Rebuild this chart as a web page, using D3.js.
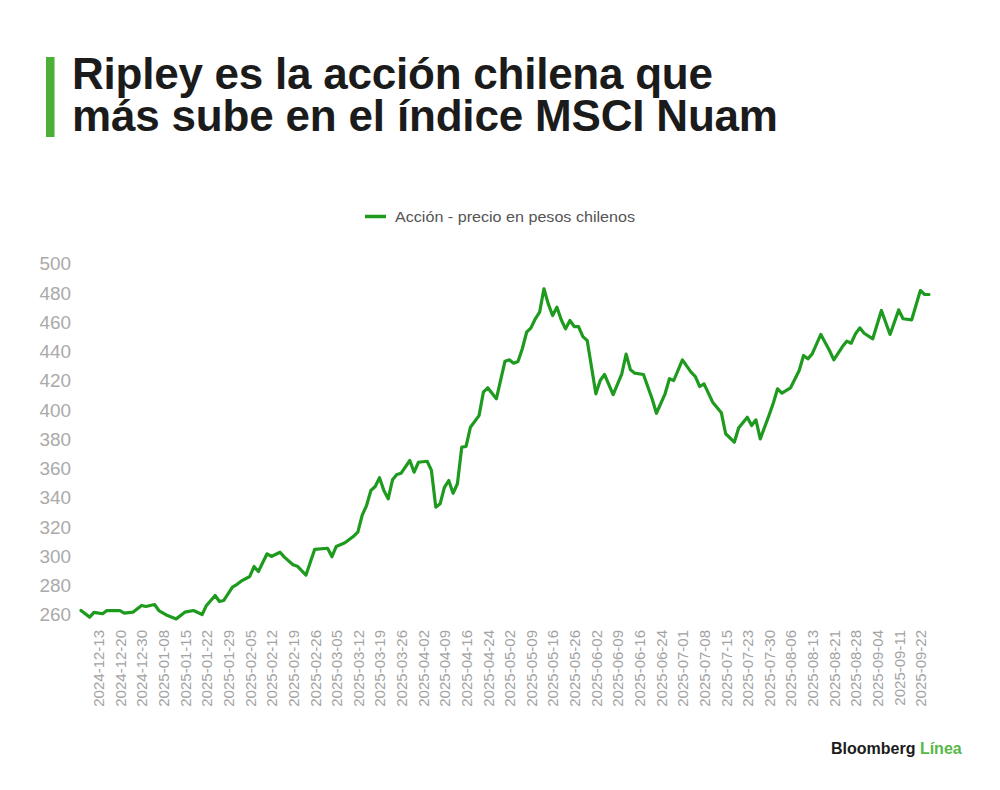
<!DOCTYPE html>
<html>
<head>
<meta charset="utf-8">
<script src="https://cdn.jsdelivr.net/npm/d3@7"></script>
<style>
  body { margin: 0; background: #fff; }
  svg { display: block; font-family: "Liberation Sans", Arial, sans-serif; }
</style>
</head>
<body>
<div id="chart"></div>
<script>
(function () {
	//Size of the page
	var w = 1000;
	var h = 790;

	//Session number (trading days since the first point) and closing price
	var sessions = [0, 2, 3, 5, 6, 9, 10, 12, 14, 15, 17, 18, 20, 22, 24, 26, 28, 29, 31, 32,
		33, 35, 36, 37, 39, 40, 41, 43, 44, 46, 47, 49, 50, 52, 54, 57, 58, 59, 61, 63,
		64, 65, 66, 67, 68, 69, 70, 71, 72, 73, 74, 76, 77, 78, 80, 81, 82, 83, 84, 85,
		86, 87, 88, 89, 90, 92, 93, 94, 96, 98, 99, 100, 101, 102, 103, 104, 105, 106, 107, 108,
		109, 110, 111, 112, 113, 114, 115, 116, 117, 119, 120, 121, 123, 125, 126, 127, 128, 130, 132, 133,
		135, 136, 137, 139, 141, 142, 143, 144, 146, 148, 149, 151, 152, 154, 155, 156, 157, 159, 160, 161,
		162, 164, 166, 167, 168, 169, 171, 173, 174, 176, 177, 178, 179, 180, 181, 183, 185, 187, 189, 190,
		192, 194, 195, 196];
	var prices = [262.7, 258.2, 261.4, 260.5, 262.7, 262.7, 261, 261.6, 266.2, 265.5, 266.8, 262.7, 259.3, 257, 261.6, 262.7, 260, 266.2, 273, 268.9,
		269.6, 278.7, 280.5, 282.8, 286, 292.8, 289.4, 301.5, 299.7, 302.6, 299.2, 294, 293, 287, 304.5, 305.3, 299.5, 306.5, 309, 313.5,
		316.5, 328, 334.5, 344.8, 347.5, 353.5, 344.8, 339.1, 352.1, 355.7, 356.6, 365.3, 357.3, 364.1, 364.8, 358.5, 333.4, 335.7, 347, 351.6,
		342.9, 349.4, 374.4, 374.9, 388, 396, 412, 415, 407.5, 433.2, 434.1, 431.8, 433, 441.7, 453, 456, 462.2, 466.7, 482.7, 472.4,
		464.4, 470.1, 461.5, 455.3, 461, 456.9, 456.9, 450, 447.4, 410.9, 420, 424.1, 410.4, 424.6, 438, 427.3, 425, 424.1, 407.5, 397.6,
		410.9, 421.2, 420, 434.1, 425.7, 422.7, 415.9, 417.7, 405.2, 398, 383.6, 377.8, 387.5, 394.9, 389.2, 393.1, 380.1, 396, 404.5, 414.3,
		411.3, 415, 426.8, 437.1, 434.8, 438.2, 451.5, 440.5, 434.1, 443.2, 446.9, 445.5, 451.9, 456, 452.3, 448.5, 467.9, 451.5, 468.3, 462.2,
		461.5, 481.5, 478.8, 478.8];

	//Date labels on the x axis, one every five sessions
	var dateLabels = ["2024-12-13", "2024-12-20", "2024-12-30", "2025-01-08", "2025-01-15", "2025-01-22",
		"2025-01-29", "2025-02-05", "2025-02-12", "2025-02-19", "2025-02-26", "2025-03-05", "2025-03-12",
		"2025-03-19", "2025-03-26", "2025-04-02", "2025-04-09", "2025-04-16", "2025-04-24", "2025-05-02",
		"2025-05-09", "2025-05-16", "2025-05-26", "2025-06-02", "2025-06-09", "2025-06-16", "2025-06-24",
		"2025-07-01", "2025-07-08", "2025-07-15", "2025-07-23", "2025-07-30", "2025-08-06", "2025-08-13",
		"2025-08-21", "2025-08-28", "2025-09-04", "2025-09-11", "2025-09-22"];
	var firstLabelSession = 4;
	var lastSession = 196;
	var yTicks = [260, 280, 300, 320, 340, 360, 380, 400, 420, 440, 460, 480, 500];

	var green = "#1e9b1e";

	var dataset = sessions.map(function (s, i) {
		return { Session: s, Price: prices[i] };
	});

	//Scales
	var xScale = d3.scaleLinear()
		.domain([0, lastSession])
		.range([81, 929]);

	var yScale = d3.scaleLinear()
		.domain([260, 500])
		.range([614.5, 263.5]);

	var svg = d3.select("#chart")
		.append("svg")
		.attr("width", w)
		.attr("height", h);

	//Green bar next to the title
	svg.append("rect")
		.attr("x", 46)
		.attr("y", 57)
		.attr("width", 8.5)
		.attr("height", 80)
		.attr("fill", "#4caf37");

	//Title: one text, two lines, tracking fitted to each line's width
	var titleLines = [
		{ text: "Ripley es la acción chilena que", dy: 0, len: 641 },
		{ text: "más sube en el índice MSCI Nuam", dy: 42.5, len: 706 }
	];
	var title = svg.append("text")
		.attr("x", 72)
		.attr("y", 88.5)
		.attr("font-size", 44)
		.attr("font-weight", "bold")
		.attr("fill", "#1b1b1b");
	title.selectAll("tspan")
		.data(titleLines)
		.enter()
		.append("tspan")
		.attr("x", 72)
		.attr("dy", function (d) { return d.dy; })
		.text(function (d) { return d.text; })
		.each(function (d) {
			var natural = this.getComputedTextLength();
			var ls = (d.len - natural) / (d.text.length - 1);
			d3.select(this).attr("letter-spacing", ls);
		});

	//Legend
	svg.append("line")
		.attr("x1", 365)
		.attr("x2", 386)
		.attr("y1", 216.5)
		.attr("y2", 216.5)
		.attr("stroke", green)
		.attr("stroke-width", 3.5);

	svg.append("text")
		.attr("x", 395)
		.attr("y", 221.5)
		.attr("font-size", 14.5)
		.attr("fill", "#555")
		.attr("textLength", 240)
		.attr("lengthAdjust", "spacingAndGlyphs")
		.text("Acción - precio en pesos chilenos");

	//Y axis
	var yAxis = svg.append("g")
		.attr("transform", "translate(71,0)")
		.call(d3.axisLeft(yScale).tickValues(yTicks).tickSize(0).tickPadding(0));
	yAxis.select(".domain").remove();
	yAxis.selectAll("text")
		.attr("font-family", "Liberation Sans, Arial, sans-serif")
		.attr("font-size", 17.5)
		.attr("fill", "#aaa")
		.attr("textLength", 31.5)
		.attr("lengthAdjust", "spacingAndGlyphs")
		.attr("dy", "0.36em");

	//X axis with rotated date labels
	var tickSessions = dateLabels.map(function (d, i) { return firstLabelSession + 5 * i; });
	var xAxis = svg.append("g")
		.attr("transform", "translate(0,630)")
		.call(d3.axisBottom(xScale)
			.tickValues(tickSessions)
			.tickSize(0)
			.tickFormat(function (d, i) { return dateLabels[i]; }));
	xAxis.select(".domain").remove();
	xAxis.selectAll("text")
		.attr("font-family", "Liberation Sans, Arial, sans-serif")
		.attr("font-size", 15)
		.attr("fill", "#a3a3a3")
		.attr("text-anchor", "end")
		.attr("transform", "rotate(-90)")
		.attr("x", 0)
		.attr("y", 0)
		.attr("dy", "0.36em");

	//Price line
	var line = d3.line()
		.x(function (d) { return xScale(d.Session); })
		.y(function (d) { return yScale(d.Price); });

	svg.append("path")
		.datum(dataset)
		.attr("d", line)
		.attr("fill", "none")
		.attr("stroke", green)
		.attr("stroke-width", 3.2)
		.attr("stroke-linejoin", "round")
		.attr("stroke-linecap", "round");

	//Logo
	var logo = svg.append("text")
		.attr("x", 831)
		.attr("y", 754)
		.attr("font-size", 16)
		.attr("font-weight", "bold");
	logo.append("tspan")
		.attr("fill", "#1b1b1b")
		.text("Bloomberg ");
	logo.append("tspan")
		.attr("fill", "#55b847")
		.text("Línea");
})()
</script>
</body>
</html>
